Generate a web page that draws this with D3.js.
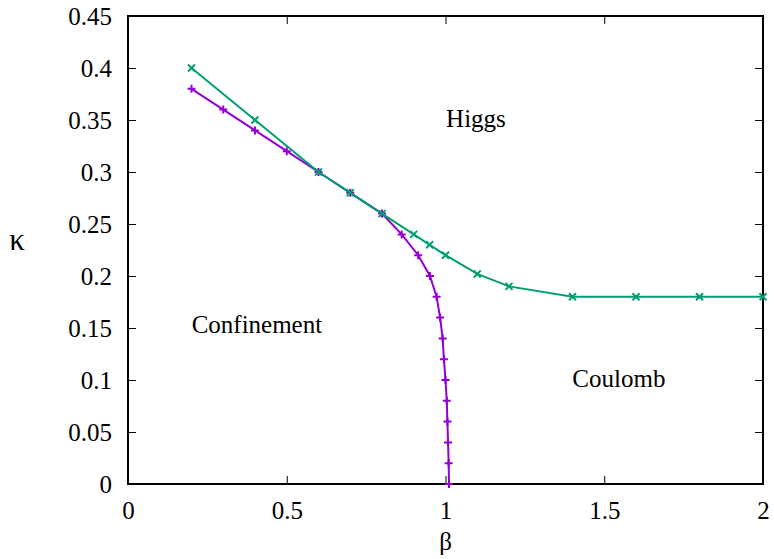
<!DOCTYPE html>
<html>
<head>
<meta charset="utf-8">
<script src="https://cdn.jsdelivr.net/npm/d3@7"></script>
<style>
  body { margin: 0; background: #fff; }
  text { font-family: "Liberation Serif", "Times New Roman", Times, serif; }
</style>
</head>
<body>
<div id="chart"></div>
<script>
// confinement / Coulomb boundary (purple, "+")
const confBeta  = [0.2, 0.3, 0.4, 0.5, 0.6, 0.7, 0.8, 0.862, 0.914, 0.951, 0.972, 0.983, 0.991, 0.995, 1.0, 1.004, 1.006, 1.008, 1.01, 1.011];
const confKappa = [0.38, 0.36, 0.34, 0.32, 0.30, 0.28, 0.26, 0.24, 0.22, 0.20, 0.18, 0.16, 0.14, 0.12, 0.10, 0.08, 0.06, 0.04, 0.02, 0.0];

// Higgs boundary (green, "x")
const higgsBeta  = [0.2, 0.4, 0.6, 0.7, 0.8, 0.9, 0.95, 1.0, 1.1, 1.2, 1.4, 1.6, 1.8, 2.0];
const higgsKappa = [0.40, 0.35, 0.30, 0.28, 0.26, 0.24, 0.23, 0.22, 0.202, 0.19, 0.18, 0.18, 0.18, 0.18];

const xTicks = [0, 0.5, 1, 1.5, 2];
const yTicks = [0, 0.05, 0.1, 0.15, 0.2, 0.25, 0.3, 0.35, 0.4, 0.45];

const phases = [
  {name: "Higgs", beta: 1.096, kappa: 0.349},
  {name: "Confinement", beta: 0.406, kappa: 0.151},
  {name: "Coulomb", beta: 1.546, kappa: 0.099}
];

const width = 774, height = 559;
const mLeft = 128, mRight = 763, mTop = 16, mBottom = 484;
const fs = 25;
const serif = "Liberation Serif, Times New Roman, serif";

const svg = d3.select("#chart")
  .append("svg")
  .attr("width", width)
  .attr("height", height)
  .attr("font-family", serif);

const x = d3.scaleLinear().domain([0, 2]).range([mLeft, mRight]);
const y = d3.scaleLinear().domain([0, 0.45]).range([mBottom, mTop]);

const tickLen = 8;
const fmt = d => String(d);

// inward ticks on all four sides
svg.append("g")
  .attr("transform", `translate(0,${mBottom})`)
  .call(d3.axisBottom(x).tickValues(xTicks).tickSize(-tickLen).tickPadding(17).tickFormat(fmt))
  .attr("font-family", serif)
  .call(g => g.select(".domain").remove())
  .call(g => g.selectAll("line").attr("stroke", "#000"))
  .call(g => g.selectAll("text").attr("font-size", fs).attr("fill", "#000"));

svg.append("g")
  .attr("transform", `translate(0,${mTop})`)
  .call(d3.axisTop(x).tickValues(xTicks).tickSize(-tickLen).tickFormat(""))
  .call(g => g.select(".domain").remove())
  .call(g => g.selectAll("line").attr("stroke", "#000"));

svg.append("g")
  .attr("transform", `translate(${mLeft},0)`)
  .call(d3.axisLeft(y).tickValues(yTicks).tickSize(-tickLen).tickPadding(16).tickFormat(fmt))
  .attr("font-family", serif)
  .call(g => g.select(".domain").remove())
  .call(g => g.selectAll("line").attr("stroke", "#000"))
  .call(g => g.selectAll("text").attr("font-size", fs).attr("fill", "#000"));

svg.append("g")
  .attr("transform", `translate(${mRight},0)`)
  .call(d3.axisRight(y).tickValues(yTicks).tickSize(-tickLen).tickFormat(""))
  .call(g => g.select(".domain").remove())
  .call(g => g.selectAll("line").attr("stroke", "#000"));

// border
svg.append("rect")
  .attr("x", mLeft)
  .attr("y", mTop)
  .attr("width", mRight - mLeft)
  .attr("height", mBottom - mTop)
  .attr("fill", "none")
  .attr("stroke", "#000")
  .attr("stroke-width", 2);

const line = d3.line().x(d => x(d[0])).y(d => y(d[1]));

const conf = d3.zip(confBeta, confKappa);
const higgs = d3.zip(higgsBeta, higgsKappa);

const purple = "#9400d3", green = "#009e73";

svg.append("path")
  .datum(conf)
  .attr("d", line)
  .attr("fill", "none")
  .attr("stroke", purple)
  .attr("stroke-width", 2);

svg.append("g").selectAll("path")
  .data(conf)
  .join("path")
  .attr("transform", d => `translate(${x(d[0])},${y(d[1])})`)
  .attr("d", "M-4,0H4M0,-4V4")
  .attr("stroke", purple)
  .attr("stroke-width", 2);

svg.append("path")
  .datum(higgs)
  .attr("d", line)
  .attr("fill", "none")
  .attr("stroke", green)
  .attr("stroke-width", 2);

svg.append("g").selectAll("path")
  .data(higgs)
  .join("path")
  .attr("transform", d => `translate(${x(d[0])},${y(d[1])})`)
  .attr("d", "M-3.5,-3.5L3.5,3.5M-3.5,3.5L3.5,-3.5")
  .attr("stroke", green)
  .attr("stroke-width", 2);

// phase labels
svg.append("g").selectAll("text")
  .data(phases)
  .join("text")
  .attr("x", d => x(d.beta))
  .attr("y", d => y(d.kappa))
  .attr("text-anchor", "middle")
  .attr("dominant-baseline", "middle")
  .attr("font-size", fs)
  .text(d => d.name);

// axis titles
svg.append("text")
  .attr("x", (mLeft + mRight) / 2)
  .attr("y", 550)
  .attr("text-anchor", "middle")
  .attr("font-size", fs)
  .text("β");

svg.append("text")
  .attr("x", 17)
  .attr("y", 243)
  .attr("text-anchor", "middle")
  .attr("dominant-baseline", "middle")
  .attr("font-size", 31)
  .text("κ");
</script>
</body>
</html>
